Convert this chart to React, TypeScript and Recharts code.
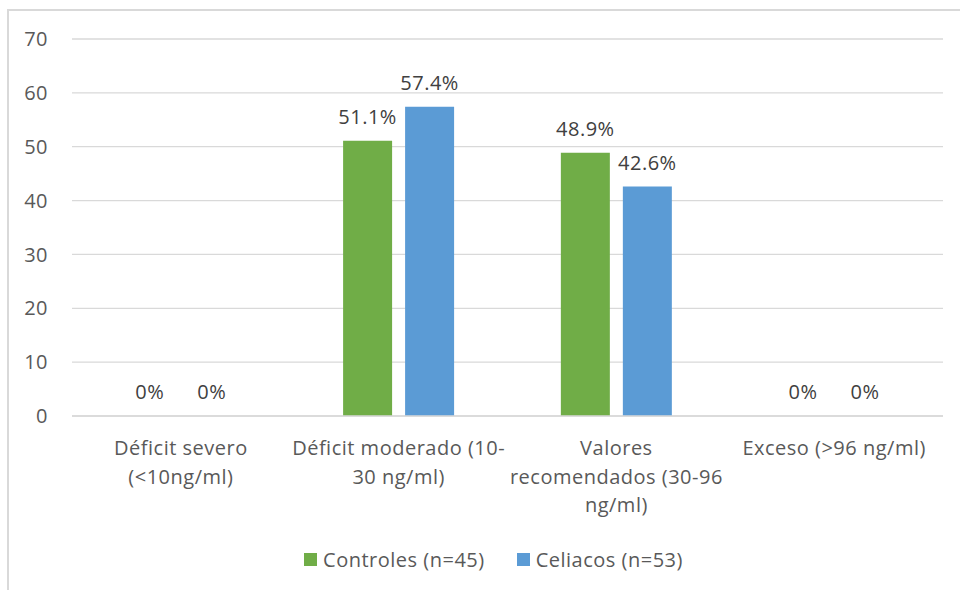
import { BarChart, Bar, XAxis, YAxis, CartesianGrid, Legend, LabelList } from 'recharts';

const categories = [
  'Déficit severo\n(<10ng/ml)',
  'Déficit moderado (10-\n30 ng/ml)',
  'Valores\nrecomendados (30-96\nng/ml)',
  'Exceso (>96 ng/ml)',
];
const controles = [0, 51.1, 48.9, 0];
const celiacos = [0, 57.4, 42.6, 0];
const yTicks = [0, 10, 20, 30, 40, 50, 60, 70];

const SERIES = [
  { key: 'controles', name: 'Controles (n=45)', color: '#70ad47' },
  { key: 'celiacos', name: 'Celiacos (n=53)', color: '#5b9bd5' },
];

const FONT = '"Open Sans", "Noto Sans", sans-serif';
const FS = 20;
const LS = 0.5;
const AXIS_COLOR = '#595959';
const GRID = '#d9d9d9';

const data = categories.map((c, i) => ({
  category: c,
  controles: controles[i],
  celiacos: celiacos[i],
}));

function CategoryTick({ x, y, payload }: any) {
  const lines = String(payload.value).split('\n');
  return (
    <text
      x={x}
      y={y}
      textAnchor="middle"
      fill={AXIS_COLOR}
      fontSize={FS}
      fontFamily={FONT}
      style={{ letterSpacing: LS }}
    >
      {lines.map((line, i) => (
        <tspan key={i} x={x} dy={i === 0 ? 31 : 28.5}>
          {line}
        </tspan>
      ))}
    </text>
  );
}

function LegendContent() {
  return (
    <div
      style={{
        display: 'flex',
        justifyContent: 'center',
        alignItems: 'center',
        height: 30,
        paddingLeft: 44,
        fontFamily: FONT,
        fontSize: FS,
        letterSpacing: LS,
        color: AXIS_COLOR,
      }}
    >
      {SERIES.map((s, i) => (
        <div key={s.key} style={{ display: 'flex', alignItems: 'center', marginLeft: i === 0 ? 0 : 32 }}>
          <span style={{ width: 13, height: 13, background: s.color, marginRight: 6 }} />
          <span>{s.name}</span>
        </div>
      ))}
    </div>
  );
}

export default function App() {
  return (
    <div style={{ position: 'absolute', left: 0, top: 0, width: 960, height: 590, background: '#fff', overflow: 'hidden' }}>
      <div
        style={{
          position: 'absolute',
          left: 7,
          top: 9,
          width: 953,
          height: 581,
          borderLeft: `2px solid ${GRID}`,
          borderTop: `2px solid ${GRID}`,
          boxSizing: 'border-box',
        }}
      />
      <div style={{ position: 'absolute', left: 0, top: 0 }}>
        <BarChart
          width={960}
          height={590}
          data={data}
          margin={{ top: 39, right: 17, left: 0, bottom: 16 }}
          barGap={13}
          barCategoryGap="24.5%"
        >
          <CartesianGrid vertical={false} stroke={GRID} strokeWidth={1.3} />
          <XAxis
            dataKey="category"
            axisLine={{ stroke: GRID, strokeWidth: 1.3 }}
            tickLine={false}
            interval={0}
            height={128}
            tick={<CategoryTick />}
          />
          <YAxis
            width={72}
            domain={[0, 70]}
            ticks={yTicks}
            axisLine={false}
            tickLine={false}
            tickSize={0}
            tickMargin={24}
            tick={{ fill: AXIS_COLOR, fontSize: FS, fontFamily: FONT, style: { letterSpacing: LS } }}
          />
          <Legend verticalAlign="bottom" content={<LegendContent />} />
          {SERIES.map((s) => (
            <Bar
              key={s.key}
              dataKey={s.key}
              name={s.name}
              fill={s.color}
              minPointSize={0.01}
              isAnimationActive={false}
            >
              <LabelList
                dataKey={s.key}
                position="top"
                offset={17}
                formatter={(v: any) => `${v}%`}
                fill="#404040"
                fontSize={FS}
                fontFamily={FONT}
                style={{ letterSpacing: LS }}
              />
            </Bar>
          ))}
        </BarChart>
      </div>
    </div>
  );
}
